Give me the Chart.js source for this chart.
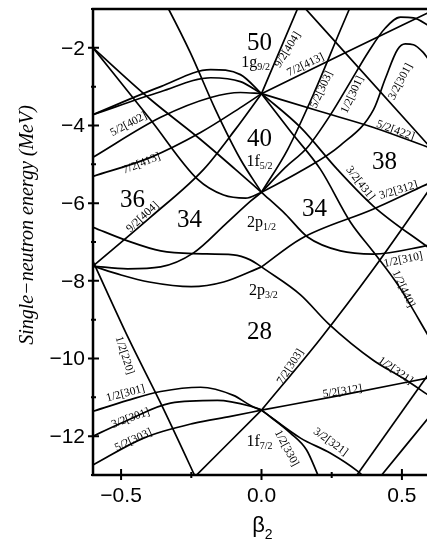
<!DOCTYPE html>
<html>
<head>
<meta charset="utf-8">
<script src="https://cdn.jsdelivr.net/npm/chart.js@4.4.1/dist/chart.umd.min.js"></script>
<style>
  html, body { margin: 0; padding: 0; background: #fff; overflow: hidden; }
  #wrap { position: relative; width: 431px; height: 540px; }
</style>
</head>
<body>
<div id="wrap"><canvas id="nilsson"></canvas></div>
<script>
// Nilsson single-neutron levels, [beta2, energy in MeV], sorted by beta2.

// 1f7/2 shell (E = -11.33 at beta2 = 0)
const f72_ob_72 = [[-0.245, -13.1], [0, -11.33]];
const f72_ob_303 = [[-0.6, -12.74], [-0.42, -12.05], [-0.242, -11.67], [-0.11, -11.49], [0, -11.33]];
const f72_ob_301b = [[-0.6, -12.0], [-0.477, -11.59], [-0.324, -11.15], [-0.157, -11.08], [-0.039, -11.23], [0, -11.33]];
const f72_ob_301a = [[-0.6, -11.36], [-0.477, -11.08], [-0.359, -10.85], [-0.217, -10.74], [-0.1, -10.95], [-0.039, -11.21], [0, -11.33]];
const f72_pr_303 = [[0, -11.33], [0.21, -9.49], [0.399, -7.69], [0.591, -5.72], [0.61, -5.52]];
const f72_pr_312 = [[0, -11.33], [0.281, -10.95], [0.601, -10.49]];
const f72_pr_321 = [[0, -11.33], [0.139, -12.05], [0.246, -12.44], [0.342, -12.9], [0.37, -13.08]];
const f72_pr_330 = [[0, -11.33], [0.103, -11.92], [0.16, -12.35], [0.195, -12.9], [0.205, -13.08]];

// sd-shell intruders
const sd_ob_220 = [[-0.6, -7.5], [-0.473, -9.49], [-0.359, -11.15], [-0.242, -12.95], [-0.235, -13.06]];
const sd_pr_a = [[0.335, -13.05], [0.602, -10.33]];
const sd_pr_b = [[0.428, -13.0], [0.602, -11.46]];

// 2p3/2 (E = -7.64)
const p32_ob_a = [[-0.6, -6.62], [-0.477, -6.97], [-0.359, -7.23], [-0.242, -7.30], [-0.1, -7.33], [-0.04, -7.46], [0, -7.64]];
const p32_ob_b = [[-0.6, -7.62], [-0.5, -7.85], [-0.4, -8.03], [-0.25, -8.15], [-0.135, -8.03], [0, -7.64]];
const p32_pr_321 = [[0, -7.64], [0.139, -8.36], [0.238, -9.10], [0.399, -10.05], [0.505, -10.51], [0.601, -10.98]];
const p32_pr_312 = [[0, -7.64], [0.139, -6.92], [0.399, -6.15], [0.601, -5.47]];

// 1f5/2 and 2p1/2 (E = -5.72)
const f52_ob_a = [[-0.6, -7.62], [-0.477, -7.69], [-0.359, -7.64], [-0.242, -7.28], [-0.128, -6.54], [-0.039, -5.95], [0, -5.72]];
const f52_ob_b = [[-0.6, -2.0], [-0.395, -3.85], [-0.228, -5.38], [-0.135, -5.79], [-0.057, -5.87], [0, -5.72]];
const f52_ob_c = [[-0.6, -2.0], [-0.395, -3.33], [-0.217, -4.36], [-0.093, -5.13], [0, -5.72]];
const f52_ob_d = [[-0.35, -0.75], [-0.331, -1.0], [-0.253, -2.13], [-0.164, -3.59], [-0.075, -4.87], [0, -5.72]];
const f52_pr_303 = [[0, -5.72], [0.093, -4.62], [0.189, -3.13], [0.281, -1.54], [0.313, -1.0], [0.32, -0.88]];
const f52_pr_301a = [[0, -5.72], [0.085, -5.08], [0.164, -4.56], [0.246, -3.72], [0.317, -2.87], [0.381, -2.10], [0.441, -1.49], [0.495, -1.21], [0.541, -1.23], [0.601, -1.45]];
const f52_pr_301b = [[0, -5.72], [0.139, -5.18], [0.281, -4.51], [0.399, -3.59], [0.441, -2.79], [0.484, -2.05], [0.512, -1.90], [0.541, -1.92], [0.573, -2.10], [0.601, -2.36]];
const p12_pr_310 = [[0, -5.72], [0.085, -6.28], [0.164, -6.87], [0.281, -7.23], [0.399, -7.31], [0.601, -7.08]];

// 1g9/2 (E = -3.18)
const g92_ob_404 = [[-0.6, -7.62], [-0.395, -6.36], [-0.206, -5.13], [-0.093, -4.10], [0, -3.18]];
const g92_ob_413 = [[-0.6, -5.31], [-0.395, -4.82], [-0.217, -4.18], [-0.075, -3.54], [0, -3.18]];
const g92_ob_402 = [[-0.6, -4.82], [-0.359, -3.79], [-0.181, -3.28], [-0.075, -3.15], [0, -3.18]];
const g92_ob_a = [[-0.6, -3.72], [-0.359, -3.0], [-0.181, -2.56], [-0.075, -2.69], [0, -3.18]];
const g92_ob_b = [[-0.6, -3.72], [-0.359, -3.13], [-0.181, -2.77], [-0.075, -2.87], [0, -3.18]];
const g92_pr_404 = [[0, -3.18], [0.128, -1.0], [0.14, -0.8]];
const g92_pr_413 = [[0, -3.18], [0.3, -2.12], [0.601, -1.07]];
const g92_pr_422 = [[0, -3.18], [0.21, -3.64], [0.399, -4.05], [0.601, -4.58]];
const g92_pr_431 = [[0, -3.18], [0.139, -4.05], [0.27, -5.13], [0.399, -6.08], [0.601, -7.18]];
const g92_pr_440 = [[0, -3.18], [0.103, -4.15], [0.21, -5.13], [0.317, -6.49], [0.399, -7.26], [0.488, -8.13], [0.601, -9.5]];

// sdg-shell level coming down from above
const up_pr_a = [[0.145, -0.9], [0.601, -4.56]];

const levels = [
  f72_ob_72, f72_ob_303, f72_ob_301b, f72_ob_301a, f72_pr_303, f72_pr_312, f72_pr_321, f72_pr_330,
  sd_ob_220, sd_pr_a, sd_pr_b,
  p32_ob_a, p32_ob_b, p32_pr_321, p32_pr_312,
  f52_ob_a, f52_ob_b, f52_ob_c, f52_ob_d, f52_pr_303, f52_pr_301a, f52_pr_301b, p12_pr_310,
  g92_ob_404, g92_ob_413, g92_ob_402, g92_ob_a, g92_ob_b,
  g92_pr_404, g92_pr_413, g92_pr_422, g92_pr_431, g92_pr_440,
  up_pr_a
];

// Axis ticks
const xTicksMajor = [-0.5, 0.0, 0.5];
const xTicksMinor = [-0.25, 0.25];
const yTicksMajor = [-2, -4, -6, -8, -10, -12];
const yTicksMinor = [-1, -3, -5, -7, -9, -11, -13];

// Asymptotic quantum-number labels: text, beta2, energy, angle (deg)
const orbitLabels = [
  ['9/2[404]', 0.093, -2.05, -58],
  ['7/2[413]', 0.157, -2.44, -26],
  ['5/2[303]', 0.214, -3.08, -65],
  ['1/2[301]', 0.324, -3.21, -65],
  ['3/2[301]', 0.495, -2.87, -62],
  ['5/2[422]', 0.477, -4.13, 20],
  ['3/2[431]', 0.352, -5.49, 52],
  ['3/2[312]', 0.488, -5.67, -17],
  ['1/2[310]', 0.505, -7.46, -12],
  ['1/2[440]', 0.505, -8.21, 65],
  ['7/2[303]', 0.103, -10.21, -57],
  ['5/2[312]', 0.288, -10.85, -9],
  ['1/2[321]', 0.477, -10.31, 35],
  ['1/2[330]', 0.089, -12.31, 62],
  ['3/2[321]', 0.246, -12.15, 36],
  ['5/2[402]', -0.473, -3.97, -28],
  ['7/2[413]', -0.427, -4.98, -22],
  ['9/2[404]', -0.423, -6.36, -43],
  ['1/2[220]', -0.488, -9.92, 72],
  ['1/2[301]', -0.484, -10.90, -15],
  ['3/2[301]', -0.466, -11.54, -20],
  ['5/2[303]', -0.456, -12.10, -25]
];

// Shell-gap particle numbers: text, beta2, energy (baseline)
const gapLabels = [
  ['50', -0.007, -2.05], ['40', -0.007, -4.54], ['38', 0.438, -5.13],
  ['36', -0.459, -6.10], ['34', -0.256, -6.62], ['34', 0.189, -6.33], ['28', -0.007, -9.49]
];

// Spherical orbitals: main text, subscript, beta2, energy (baseline)
const sphLabels = [
  ['1g', '9/2', -0.021, -2.49], ['1f', '5/2', -0.007, -5.05], ['2p', '1/2', 0.0, -6.62],
  ['2p', '3/2', 0.007, -8.36], ['1f', '7/2', -0.007, -12.26]
];

const SERIF = "'Liberation Serif', 'Times New Roman', serif";
const SANS = "'Liberation Sans', Arial, Helvetica, sans-serif";
const minus = s => s.replace('-', '\u2212');

const decorations = {
  id: 'decorations',
  afterDraw(chart) {
    const { ctx, chartArea: a, scales: { x, y } } = chart;
    ctx.save();
    ctx.strokeStyle = '#000';
    ctx.fillStyle = '#000';

    // frame
    ctx.lineWidth = 2.5;
    ctx.beginPath();
    ctx.moveTo(a.right + 2, a.top);
    ctx.lineTo(a.left, a.top);
    ctx.lineTo(a.left, a.bottom);
    ctx.lineTo(a.right + 2, a.bottom);
    ctx.stroke();

    // tick marks
    ctx.lineWidth = 2;
    ctx.beginPath();
    yTicksMajor.forEach(v => { const p = y.getPixelForValue(v); ctx.moveTo(a.left - 5, p); ctx.lineTo(a.left + 6, p); });
    yTicksMinor.forEach(v => { const p = y.getPixelForValue(v); ctx.moveTo(a.left - 2, p); ctx.lineTo(a.left + 3, p); });
    xTicksMajor.forEach(v => { const p = x.getPixelForValue(v); ctx.moveTo(p, a.bottom - 6); ctx.lineTo(p, a.bottom + 5); });
    xTicksMinor.forEach(v => { const p = x.getPixelForValue(v); ctx.moveTo(p, a.bottom - 3); ctx.lineTo(p, a.bottom + 3); });
    ctx.stroke();

    // tick labels
    ctx.font = '21px ' + SANS;
    ctx.textAlign = 'right';
    ctx.textBaseline = 'middle';
    yTicksMajor.forEach(v => ctx.fillText(minus(String(v)), a.left - 8, y.getPixelForValue(v) + 1));
    ctx.textAlign = 'center';
    xTicksMajor.forEach(v => ctx.fillText(minus(v.toFixed(1)), x.getPixelForValue(v), a.bottom + 21));

    // axis titles
    ctx.save();
    ctx.translate(28, (a.top + a.bottom) / 2 - 17);
    ctx.rotate(-Math.PI / 2);
    ctx.font = 'italic 20px ' + SERIF;
    ctx.textAlign = 'center';
    ctx.textBaseline = 'middle';
    ctx.fillText('Single\u2212neutron energy (MeV)', 0, 0);
    ctx.restore();

    ctx.textAlign = 'left';
    ctx.textBaseline = 'alphabetic';
    ctx.font = '22px ' + SANS;
    const xc = x.getPixelForValue(0);
    const wb = ctx.measureText('\u03b2').width;
    ctx.fillText('\u03b2', xc - wb / 2 - 3, 532);
    ctx.font = '14px ' + SANS;
    ctx.fillText('2', xc + wb / 2 - 3, 539);

    // orbital labels
    ctx.font = '11.5px ' + SERIF;
    ctx.textAlign = 'center';
    ctx.textBaseline = 'middle';
    orbitLabels.forEach(([t, b, e, r]) => {
      ctx.save();
      ctx.translate(x.getPixelForValue(b), y.getPixelForValue(e));
      ctx.rotate(r * Math.PI / 180);
      ctx.fillText(t, 0, 0);
      ctx.restore();
    });

    // shell gaps
    ctx.font = '25px ' + SERIF;
    ctx.textBaseline = 'alphabetic';
    gapLabels.forEach(([t, b, e]) => ctx.fillText(t, x.getPixelForValue(b), y.getPixelForValue(e)));

    // spherical orbitals with subscripts
    sphLabels.forEach(([m, s, b, e]) => {
      ctx.font = '16px ' + SERIF;
      const w1 = ctx.measureText(m).width;
      ctx.font = '10px ' + SERIF;
      const w2 = ctx.measureText(s).width;
      const x0 = x.getPixelForValue(b) - (w1 + w2) / 2;
      const yb = y.getPixelForValue(e);
      ctx.textAlign = 'left';
      ctx.font = '16px ' + SERIF;
      ctx.fillText(m, x0, yb);
      ctx.font = '10px ' + SERIF;
      ctx.fillText(s, x0 + w1, yb + 3);
    });
    ctx.restore();
  }
};

new Chart(document.getElementById('nilsson'), {
  type: 'scatter',
  data: {
    datasets: levels.map(lv => ({
      data: lv.map(([b, e]) => ({ x: b, y: e })),
      showLine: true,
      borderColor: '#000',
      borderWidth: 1.7,
      pointRadius: 0,
      cubicInterpolationMode: 'monotone',
      fill: false
    }))
  },
  options: {
    responsive: true,
    maintainAspectRatio: false,
    animation: false,
    devicePixelRatio: 1,
    events: [],
    layout: { padding: { left: 0, right: 1, top: 9, bottom: 0 } },
    plugins: { legend: { display: false }, tooltip: { enabled: false } },
    scales: {
      x: {
        type: 'linear', min: -0.6, max: 0.6,
        ticks: { display: false }, grid: { display: false }, border: { display: false },
        afterFit(s) { s.height = 65; }
      },
      y: {
        type: 'linear', min: -13, max: -1,
        ticks: { display: false }, grid: { display: false }, border: { display: false },
        afterFit(s) { s.width = 93; }
      }
    }
  },
  plugins: [decorations]
});
</script>
</body>
</html>
